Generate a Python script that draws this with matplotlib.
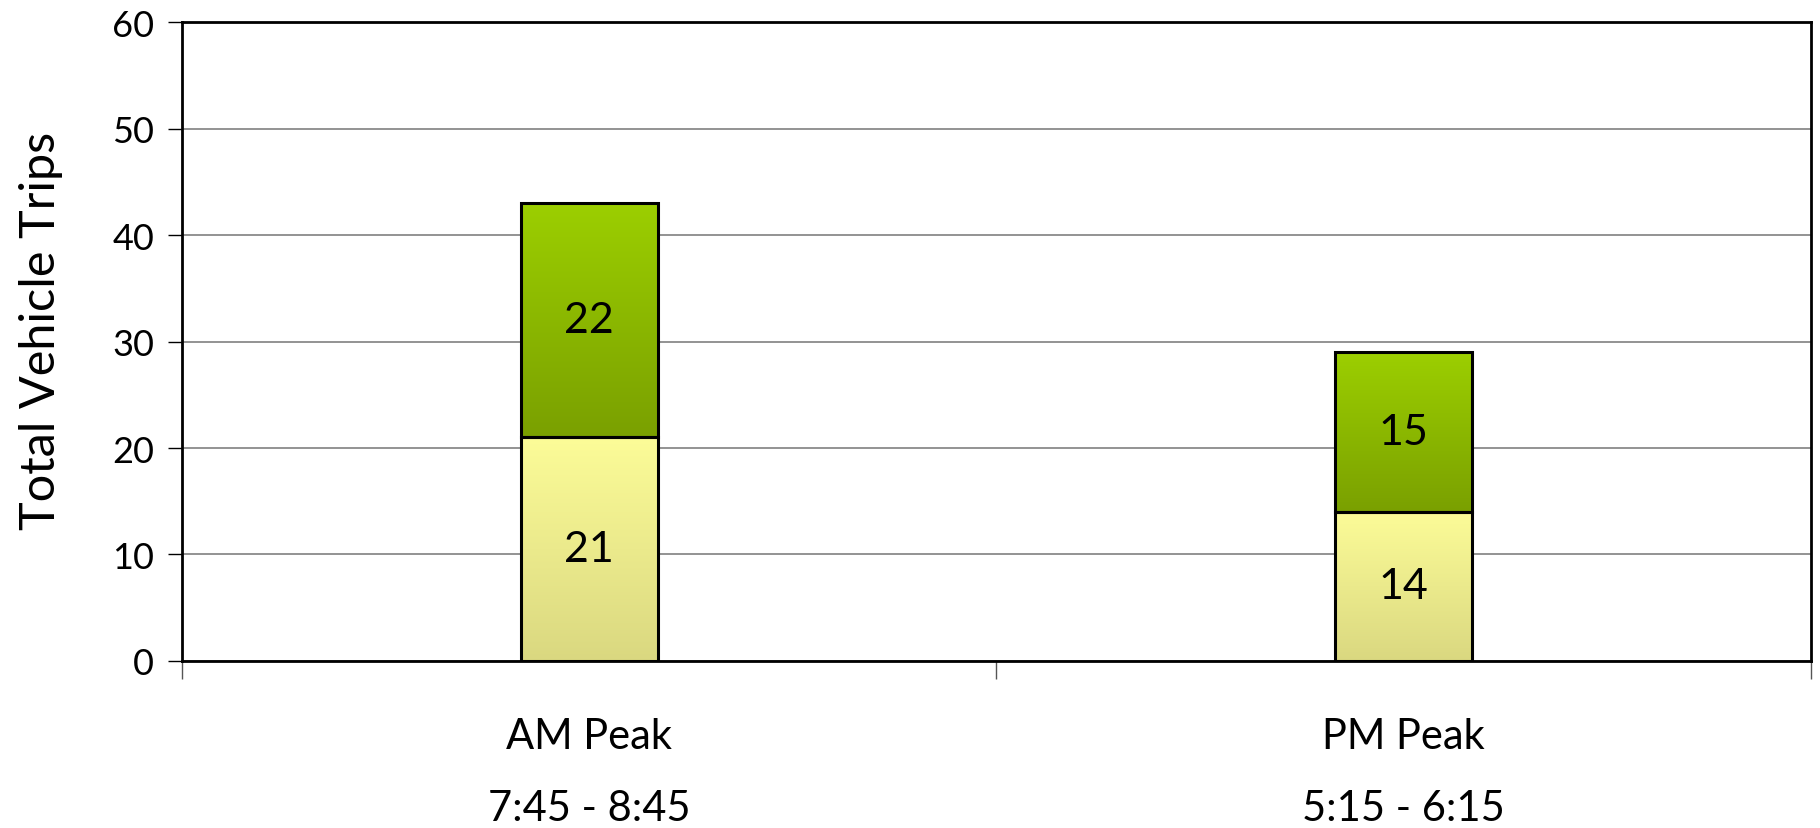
import numpy as np
import matplotlib
matplotlib.use("Agg")
import matplotlib.pyplot as plt
from matplotlib.colors import LinearSegmentedColormap

plt.rcParams['font.family'] = ['Lato', 'DejaVu Sans']

categories = ["AM Peak\n7:45 - 8:45", "PM Peak\n5:15 - 6:15"]
lower_vals = [21, 14]
upper_vals = [22, 15]
y_ticks = [0, 10, 20, 30, 40, 50, 60]

fig = plt.figure(figsize=(18.2, 8.29), dpi=100)
ax = fig.add_axes([0.100, 0.2015, 0.895, 0.7705])

x = np.arange(len(categories))
width = 0.168
b1 = ax.bar(x, lower_vals, width, color='none', edgecolor='black', linewidth=2.2, zorder=3)
b2 = ax.bar(x, upper_vals, width, bottom=lower_vals, color='none', edgecolor='black', linewidth=2.2, zorder=3)

cm_low = LinearSegmentedColormap.from_list('low', ['#DAD880', '#FCFC98'])
cm_up = LinearSegmentedColormap.from_list('up', ['#7AA000', '#9CCF00'])
grad = np.linspace(0, 1, 256).reshape(-1, 1)
for bars, cm in ((b1, cm_low), (b2, cm_up)):
    for p in bars:
        x0, y0 = p.get_x(), p.get_y()
        w, h = p.get_width(), p.get_height()
        im = ax.imshow(grad, cmap=cm, origin='lower', aspect='auto',
                       extent=[x0, x0 + w, y0, y0 + h], zorder=2)
        im.set_clip_path(p)

for bars, vals in ((b1, lower_vals), (b2, upper_vals)):
    for p, v in zip(bars, vals):
        ax.text(p.get_x() + p.get_width() / 2, p.get_y() + p.get_height() / 2, str(v),
                ha='center', va='center', fontsize=31, zorder=4)

ax.set_xlim(-0.5, 1.5)
ax.set_ylim(0, 60)
ax.set_yticks(y_ticks)
ax.tick_params(axis='y', labelsize=26, length=10, width=1, pad=10)
ax.yaxis.grid(True, color='#808080', linewidth=1.2, zorder=0)
ax.set_axisbelow(True)

ax.set_xticks(x)
ax.set_xticklabels(categories, fontsize=30, linespacing=2.1)
ax.tick_params(axis='x', length=0, pad=40)
ax.set_xticks([-0.5, 0.5, 1.5], minor=True)
ax.tick_params(axis='x', which='minor', length=13, width=1, color='#555555')

for s in ax.spines.values():
    s.set_linewidth(2)
    s.set_color('black')

ax.set_ylabel("Total Vehicle Trips", fontsize=35)
ax.yaxis.set_label_coords(-0.073, 0.518)

fig.savefig("out.png", dpi=100)
